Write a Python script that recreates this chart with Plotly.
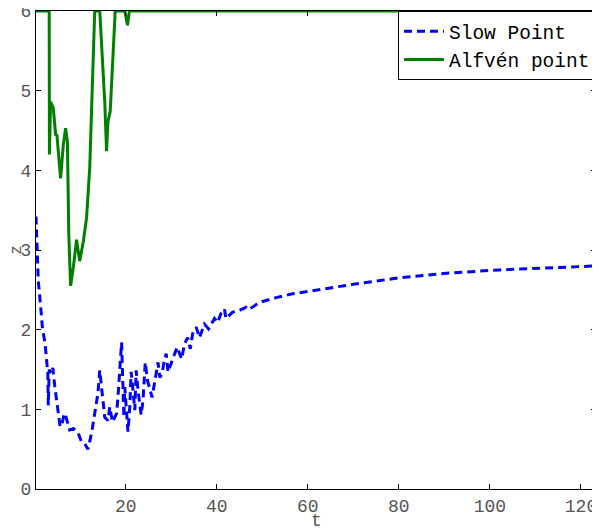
import plotly.graph_objects as go

# Slow point (blue dashed)
slow_t = [0.3, 0.5, 0.8, 1.4, 1.7, 2.3, 2.6, 2.9, 3.0, 3.2, 3.6, 4.0, 4.4, 4.8, 5.2, 5.6,
          6.1, 6.5, 6.9, 7.7, 8.5, 9.5, 10.3, 11.0, 11.7, 12.5, 13.2, 13.9, 14.3, 14.7,
          15.0, 15.4, 16.1, 16.5, 17.1, 18.0, 18.3, 18.8, 19.1, 19.4, 19.6, 19.8, 20.2,
          20.5, 20.9, 21.2, 21.6, 22.0, 22.3, 22.7, 23.4, 23.8, 24.3, 24.8, 25.8, 26.3,
          27.1, 27.5, 28.0, 28.4, 28.9, 29.3, 30.3, 31.3, 32.3, 32.9, 33.6, 34.2, 34.7,
          35.5, 36.2, 37.3, 38.2, 39.5, 40.2, 40.9, 41.7, 42.0, 43.5, 44.9, 46.4, 47.0,
          49.3, 52.2, 56.6, 61, 66, 70, 80, 91, 102, 113, 123.3]
slow_z = [3.42, 3.0, 2.61, 2.24, 2.03, 1.82, 1.61, 1.45, 1.05, 1.5, 1.45, 1.52, 1.3, 1.1,
          0.95, 0.78, 0.84, 0.95, 0.9, 0.74, 0.76, 0.71, 0.59, 0.57, 0.50, 0.70, 0.95, 1.2,
          1.49, 1.28, 1.11, 0.90, 0.86, 1.03, 0.84, 0.95, 1.15, 1.65, 1.84, 1.28, 0.9, 1.28,
          0.90, 0.72, 1.03, 1.47, 1.24, 0.99, 1.49, 1.24, 0.93, 1.11, 1.59, 1.36, 1.15, 1.30,
          1.59, 1.40, 1.45, 1.59, 1.70, 1.47, 1.63, 1.78, 1.63, 1.82, 1.90, 1.76, 1.95,
          2.03, 1.90, 2.07, 2.01, 2.14, 2.09, 2.20, 2.26, 2.14, 2.22, 2.24, 2.28, 2.25,
          2.34, 2.39, 2.45, 2.49, 2.53, 2.57, 2.65, 2.71, 2.75, 2.78, 2.80]

# Alfven point (green solid)
alf_t = [0.3, 3.2, 3.25, 3.5, 4.1, 4.6, 4.9, 5.7, 6.3, 6.8, 7.2, 7.5, 7.9, 8.5, 9.2, 9.9,
         10.7, 11.4, 12.1, 12.5, 12.8, 13.2, 14.3, 15.0, 15.4, 15.8, 16.1, 16.6, 17.2,
         17.7, 19.8, 20.4, 20.8, 123.3]
alf_z = [6, 6, 4.2, 4.86, 4.78, 4.45, 4.44, 3.90, 4.32, 4.53, 4.36, 3.2, 2.55, 2.78, 3.13,
         2.86, 3.11, 3.40, 4.03, 4.78, 5.49, 6, 6, 5.36, 4.86, 4.24, 4.61, 4.74, 5.49,
         6, 6, 5.82, 6, 6]

x_ticks = [20, 40, 60, 80, 100, 120]
y_ticks = [0, 1, 2, 3, 4, 5, 6]

mono = "Liberation Mono, Courier New, monospace"

fig = go.Figure()
fig.add_trace(go.Scatter(x=slow_t, y=slow_z, mode="lines", name="Slow Point",
                         line=dict(color="#0000ff", width=3, dash="8px,5px")))
fig.add_trace(go.Scatter(x=alf_t, y=alf_z, mode="lines", name="Alfvén point",
                         line=dict(color="#008000", width=3)))

axis_common = dict(showgrid=False, zeroline=False, showline=True, linecolor="black",
                   linewidth=1, mirror="ticks", ticks="inside", ticklen=5,
                   tickcolor="black", ticklabeloverflow="allow",
                   tickfont=dict(family=mono, size=18, color="#555"))

fig.update_xaxes(range=[0.3, 123.3], tickvals=x_ticks, **axis_common)
fig.update_yaxes(range=[0, 6], tickvals=y_ticks, **axis_common,
                 title=dict(text="z", font=dict(family=mono, size=16, color="#555"), standoff=0))

# x title placed as an annotation so it can sit a little lower than the margin allows
fig.add_annotation(text="t", x=0.5, y=0, xref="paper", yref="paper", xanchor="center",
                   yanchor="top", yshift=-20, showarrow=False,
                   font=dict(family=mono, size=18, color="#555"))

# page body adds an 8px offset, so the figure is a bit smaller than the window
fig.update_layout(
    width=592, height=521,
    margin=dict(l=28, r=4, t=3, b=40, autoexpand=False),
    plot_bgcolor="white", paper_bgcolor="white",
    legend=dict(x=1, y=1, xanchor="right", yanchor="top", bgcolor="white",
                bordercolor="black", borderwidth=1, itemwidth=40,
                font=dict(family=mono, size=19.5, color="black")),
)

fig.write_html("out.html")
